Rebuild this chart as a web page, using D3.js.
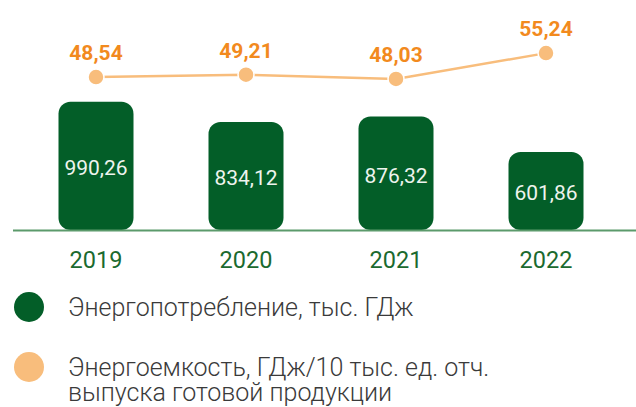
<!DOCTYPE html>
<html>
<head>
<meta charset="utf-8">
<script src="https://cdn.jsdelivr.net/npm/d3@7"></script>
<style>
  html, body { margin: 0; padding: 0; background: #fff; }
  svg { display: block; font-family: Roboto, "Noto Sans", sans-serif; }
</style>
</head>
<body>
<svg id="chart" width="636" height="407"></svg>
<script>
// Годы отчётного периода
const years = ["2019", "2020", "2021", "2022"];
// Энергопотребление, тыс. ГДж
const consumption = [990.26, 834.12, 876.32, 601.86];
// Энергоемкость, ГДж/10 тыс. ед. отч. выпуска готовой продукции
const intensity = [48.54, 49.21, 48.03, 55.24];
// Подписи легенды
const legendLabels = [
  ["Энергопотребление, тыс. ГДж"],
  ["Энергоемкость, ГДж/10 тыс. ед. отч.", "выпуска готовой продукции"]
];
const legendColors = ["#035e28", "#f8bd7c"];

const svg = d3.select("#chart");
const fmt = d3.formatLocale({ decimal: ",", thousands: " ", grouping: [3], currency: ["", ""] }).format(".2f");

const baseY = 230;
const x = d3.scaleBand().domain(years).range([21, 621]).paddingInner(0.5).paddingOuter(0.25);
const yBar = d3.scaleLinear().domain([0, 1000]).range([baseY, 100.4]);
const yLine = d3.scaleLinear().domain([48, 56]).range([79, 50.4]);
const cx = d => x(d) + x.bandwidth() / 2;

// Столбцы энергопотребления
const bars = svg.append("g");
bars.selectAll("rect")
  .data(years)
  .join("rect")
  .attr("x", d => x(d))
  .attr("y", (d, i) => yBar(consumption[i]))
  .attr("width", x.bandwidth())
  .attr("height", (d, i) => baseY - yBar(consumption[i]))
  .attr("rx", 12)
  .attr("ry", 12)
  .attr("fill", "#035e28");

bars.selectAll("text")
  .data(years)
  .join("text")
  .attr("x", d => cx(d))
  .attr("y", (d, i) => (yBar(consumption[i]) + baseY) / 2 + 9.5)
  .attr("text-anchor", "middle")
  .attr("font-size", 21)
  .attr("fill", "#eef4ee")
  .text((d, i) => fmt(consumption[i]));

// Базовая линия
svg.append("line")
  .attr("x1", 13).attr("x2", 636)
  .attr("y1", baseY + 0.5).attr("y2", baseY + 0.5)
  .attr("stroke", "#5b9a6b")
  .attr("stroke-width", 2);

// Подписи лет
svg.append("g").selectAll("text")
  .data(years)
  .join("text")
  .attr("x", d => cx(d))
  .attr("y", 268)
  .attr("text-anchor", "middle")
  .attr("font-size", 23.5)
  .attr("fill", "#1b6a2f")
  .text(d => d);

// Линия энергоемкости
const line = d3.line()
  .x((v, i) => cx(years[i]))
  .y(v => yLine(v));

svg.append("path")
  .datum(intensity)
  .attr("d", line)
  .attr("fill", "none")
  .attr("stroke", "#f8bd7c")
  .attr("stroke-width", 2.5);

svg.append("g").selectAll("circle")
  .data(intensity)
  .join("circle")
  .attr("cx", (v, i) => cx(years[i]))
  .attr("cy", v => yLine(v))
  .attr("r", 8)
  .attr("fill", "#f8bd7c")
  .attr("stroke", "#fff")
  .attr("stroke-width", 1.5);

svg.append("g").selectAll("text")
  .data(intensity)
  .join("text")
  .attr("x", (v, i) => cx(years[i]))
  .attr("y", v => yLine(v) - 17)
  .attr("text-anchor", "middle")
  .attr("font-size", 21)
  .attr("font-weight", 700)
  .attr("fill", "#f28a1e")
  .text(v => fmt(v));

// Легенда
const legendY = [307, 367];
const legend = svg.append("g").selectAll("g")
  .data(legendLabels)
  .join("g");

legend.append("circle")
  .attr("cx", 29)
  .attr("cy", (d, k) => legendY[k])
  .attr("r", 15)
  .attr("fill", (d, k) => legendColors[k]);

legend.append("text")
  .attr("x", 68)
  .attr("y", (d, k) => legendY[k] + 9)
  .attr("font-size", 25)
  .attr("font-weight", 300)
  .attr("fill", "#3a3a3a")
  .selectAll("tspan")
  .data(d => d)
  .join("tspan")
  .attr("x", 68)
  .attr("dy", (d, j) => j === 0 ? 0 : 25)
  .text(d => d);
</script>
</body>
</html>
